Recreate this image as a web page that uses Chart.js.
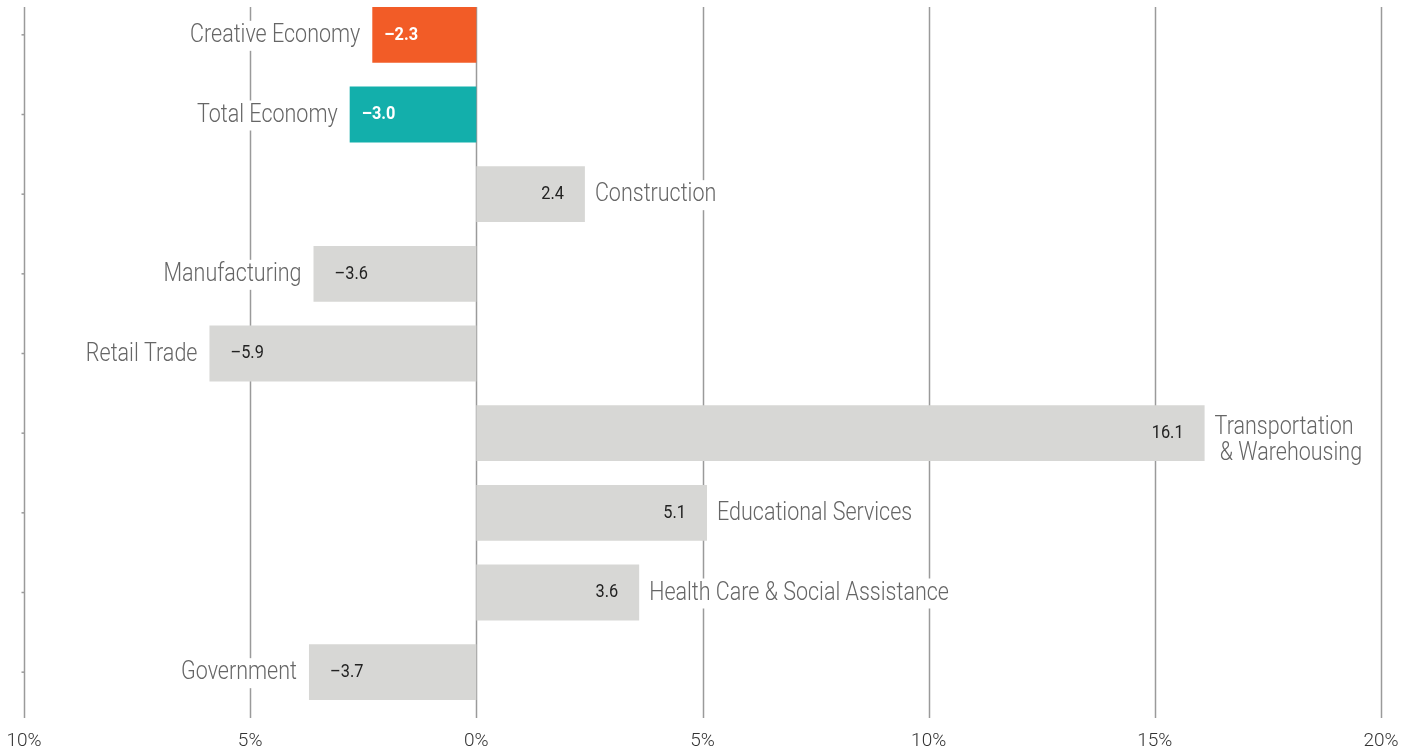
<!DOCTYPE html>
<html>
<head>
<meta charset="utf-8">
<script src="https://cdn.jsdelivr.net/npm/chart.js@4/dist/chart.umd.min.js"></script>
<style>
    html, body { margin: 0; padding: 0; background: #fff; overflow: hidden; }
    #wrap { position: absolute; left: 0; top: -5px; width: 1414px; height: 775px; }
</style>
</head>
<body>
<div id="wrap"><canvas id="chart" width="1414" height="775"></canvas></div>
<script>
const categories = [
    'Creative Economy',
    'Total Economy',
    'Construction',
    'Manufacturing',
    'Retail Trade',
    ['Transportation', ' & Warehousing'],
    'Educational Services',
    'Health Care & Social Assistance',
    'Government'
];
// bar lengths as drawn in the picture
const values = [-2.3, -2.8, 2.4, -3.6, -5.9, 16.1, 5.1, 3.6, -3.7];
// numbers printed on the bars
const valueLabels = ['\u20132.3', '\u20133.0', '2.4', '\u20133.6', '\u20135.9', '16.1', '5.1', '3.6', '\u20133.7'];
const xTicks = [-10, -5, 0, 5, 10, 15, 20];

const FONT = 'Roboto, "DejaVu Sans Condensed", sans-serif';
const SX = 0.86; // squeeze to look like the condensed face of the original
const GRAY_BAR = '#d7d7d5';

function barColor(i) {
    if (i === 0) return '#f25c27';
    if (i === 1) return '#13afab';
    return GRAY_BAR;
}

function drawText(ctx, text, x, y, align) {
    ctx.save();
    ctx.translate(x, y);
    ctx.scale(SX, 1);
    ctx.textAlign = align;
    ctx.fillText(text, 0, 0);
    ctx.restore();
}

// vertical grid lines, drawn from the first bar top down past the plot
const gridPlugin = {
    id: 'grid',
    beforeDatasetsDraw(chart) {
        const ctx = chart.ctx;
        const x = chart.scales.x;
        const y = chart.scales.y;
        const first = chart.getDatasetMeta(0).data[0];
        const top = first.y - first.height / 2;
        const bottom = chart.chartArea.bottom + 6;
        ctx.save();
        ctx.strokeStyle = '#9a9a9a';
        ctx.lineWidth = 1.5;
        xTicks.forEach(t => {
            const px = Math.round(x.getPixelForValue(t)) + 0.5;
            ctx.beginPath();
            ctx.moveTo(px, top);
            ctx.lineTo(px, bottom);
            ctx.stroke();
        });
        // little ticks on the left axis
        const left = Math.round(x.getPixelForValue(xTicks[0])) + 0.5;
        categories.forEach((c, i) => {
            const py = y.getPixelForValue(i);
            ctx.beginPath();
            ctx.moveTo(left - 3, py);
            ctx.lineTo(left, py);
            ctx.stroke();
        });
        ctx.restore();
    }
};

const labelPlugin = {
    id: 'barLabels',
    afterDatasetsDraw(chart) {
        const ctx = chart.ctx;
        const meta = chart.getDatasetMeta(0);
        ctx.save();
        ctx.textBaseline = 'middle';
        meta.data.forEach((el, i) => {
            const v = values[i];
            const highlight = i < 2;

            // category name beside the bar end, with white box hiding grid lines
            const lines = Array.isArray(categories[i]) ? categories[i] : [categories[i]];
            const lh = 26;
            ctx.font = '300 25px ' + FONT;
            const startY = el.y - (lines.length - 1) * lh / 2 + (lines.length > 1 ? 8 : 1);
            lines.forEach((line, k) => {
                const w = ctx.measureText(line).width * SX;
                const ly = startY + k * lh;
                let lx, x0, align;
                if (v < 0) {
                    lx = el.x - 12;
                    x0 = lx - w;
                    align = 'right';
                } else {
                    lx = el.x + 10;
                    x0 = lx;
                    align = 'left';
                }
                ctx.fillStyle = '#fff';
                ctx.fillRect(x0 - 3, ly - 15, w + 6, 30);
                ctx.fillStyle = '#666';
                drawText(ctx, line, lx, ly, align);
            });

            // value inside the bar
            ctx.font = (highlight ? 'bold ' : '') + '19px ' + FONT;
            ctx.fillStyle = highlight ? '#fff' : '#222';
            if (v < 0) {
                drawText(ctx, valueLabels[i], el.x + (highlight ? 12 : 21), el.y, 'left');
            } else {
                drawText(ctx, valueLabels[i], el.x - 21, el.y, 'right');
            }
        });
        ctx.restore();
    }
};

function createChart() {
    const ctx = document.getElementById('chart').getContext('2d');
    return new Chart(ctx, {
        type: 'bar',
        data: {
            labels: categories.map(c => Array.isArray(c) ? c.join(' ') : c),
            datasets: [{
                data: values,
                backgroundColor: values.map((v, i) => barColor(i)),
                borderWidth: 0,
                barPercentage: 0.7,
                categoryPercentage: 1
            }]
        },
        options: {
            indexAxis: 'y',
            responsive: false,
            animation: false,
            layout: { padding: { left: 24, right: 33, top: 0, bottom: 0 } },
            plugins: {
                legend: { display: false },
                tooltip: { enabled: false }
            },
            scales: {
                x: {
                    type: 'linear',
                    min: -10,
                    max: 20,
                    afterBuildTicks: axis => { axis.ticks = xTicks.map(v => ({ value: v })); },
                    grid: { display: false, drawTicks: false },
                    border: { display: false },
                    ticks: {
                        padding: 2,
                        color: '#333',
                        font: { family: FONT, size: 19, weight: '300', lineHeight: '54px' },
                        callback: v => Math.abs(v) + '%'
                    }
                },
                y: {
                    display: false
                }
            }
        },
        plugins: [gridPlugin, labelPlugin]
    });
}

createChart();
</script>
</body>
</html>
